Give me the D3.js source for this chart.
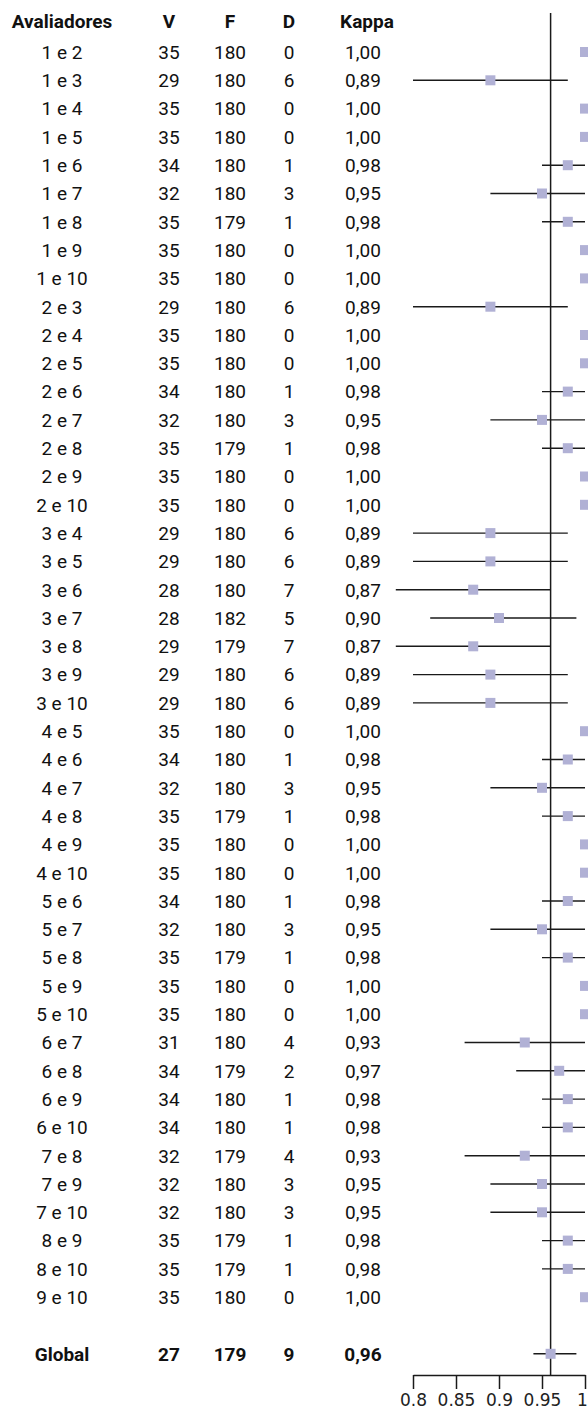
<!DOCTYPE html>
<html>
<head>
<meta charset="utf-8">
<script src="https://cdn.jsdelivr.net/npm/d3@7"></script>
<style>
  html, body { margin: 0; padding: 0; background: #fff; }
  svg { display: block; }
</style>
</head>
<body>
<div id="chart"></div>
<script>
const WIDTH = 588;
const HEIGHT = 1411;
const SQUARE_FILL = "#b1b1d5";
const LINE_COLOR = "#1a1a1a";

// Table data
const pairs = [
  "1 e 2", "1 e 3", "1 e 4", "1 e 5", "1 e 6", "1 e 7", "1 e 8", "1 e 9", "1 e 10",
  "2 e 3", "2 e 4", "2 e 5", "2 e 6", "2 e 7", "2 e 8", "2 e 9", "2 e 10",
  "3 e 4", "3 e 5", "3 e 6", "3 e 7", "3 e 8", "3 e 9", "3 e 10",
  "4 e 5", "4 e 6", "4 e 7", "4 e 8", "4 e 9", "4 e 10",
  "5 e 6", "5 e 7", "5 e 8", "5 e 9", "5 e 10",
  "6 e 7", "6 e 8", "6 e 9", "6 e 10",
  "7 e 8", "7 e 9", "7 e 10",
  "8 e 9", "8 e 10",
  "9 e 10"
];
const vValues = [
  35, 29, 35, 35, 34, 32, 35, 35, 35,
  29, 35, 35, 34, 32, 35, 35, 35,
  29, 29, 28, 28, 29, 29, 29,
  35, 34, 32, 35, 35, 35,
  34, 32, 35, 35, 35,
  31, 34, 34, 34,
  32, 32, 32,
  35, 35,
  35
];
const fValues = [
  180, 180, 180, 180, 180, 180, 179, 180, 180,
  180, 180, 180, 180, 180, 179, 180, 180,
  180, 180, 180, 182, 179, 180, 180,
  180, 180, 180, 179, 180, 180,
  180, 180, 179, 180, 180,
  180, 179, 180, 180,
  179, 180, 180,
  179, 179,
  180
];
const dValues = [
  0, 6, 0, 0, 1, 3, 1, 0, 0,
  6, 0, 0, 1, 3, 1, 0, 0,
  6, 6, 7, 5, 7, 6, 6,
  0, 1, 3, 1, 0, 0,
  1, 3, 1, 0, 0,
  4, 2, 1, 1,
  4, 3, 3,
  1, 1,
  0
];
const kappa = [
  1.00, 0.89, 1.00, 1.00, 0.98, 0.95, 0.98, 1.00, 1.00,
  0.89, 1.00, 1.00, 0.98, 0.95, 0.98, 1.00, 1.00,
  0.89, 0.89, 0.87, 0.90, 0.87, 0.89, 0.89,
  1.00, 0.98, 0.95, 0.98, 1.00, 1.00,
  0.98, 0.95, 0.98, 1.00, 1.00,
  0.93, 0.97, 0.98, 0.98,
  0.93, 0.95, 0.95,
  0.98, 0.98,
  1.00
];
const ciLow = [
  1.00, 0.80, 1.00, 1.00, 0.95, 0.89, 0.95, 1.00, 1.00,
  0.80, 1.00, 1.00, 0.95, 0.89, 0.95, 1.00, 1.00,
  0.80, 0.80, 0.78, 0.82, 0.78, 0.80, 0.80,
  1.00, 0.95, 0.89, 0.95, 1.00, 1.00,
  0.95, 0.89, 0.95, 1.00, 1.00,
  0.86, 0.92, 0.95, 0.95,
  0.86, 0.89, 0.89,
  0.95, 0.95,
  1.00
];
const ciHigh = [
  1.00, 0.98, 1.00, 1.00, 1.00, 1.00, 1.00, 1.00, 1.00,
  0.98, 1.00, 1.00, 1.00, 1.00, 1.00, 1.00, 1.00,
  0.98, 0.98, 0.96, 0.99, 0.96, 0.98, 0.98,
  1.00, 1.00, 1.00, 1.00, 1.00, 1.00,
  1.00, 1.00, 1.00, 1.00, 1.00,
  1.00, 1.00, 1.00, 1.00,
  1.00, 1.00, 1.00,
  1.00, 1.00,
  1.00
];
const globalRow = { label: "Global", v: 27, f: 179, d: 9, kappa: 0.96, lo: 0.94, hi: 0.99 };
const headers = ["Avaliadores", "V", "F", "D", "Kappa"];
const tickValues = [0.8, 0.85, 0.9, 0.95, 1];
const refLine = 0.96;

const rows = pairs.map((p, i) => ({
  label: p, v: vValues[i], f: fValues[i], d: dValues[i],
  kappa: kappa[i], lo: ciLow[i], hi: ciHigh[i], idx: i, bold: false
}));
rows.push({ ...globalRow, idx: pairs.length + 1, bold: true });

const fmtKappa = v => v.toFixed(2).replace(".", ",");

const svg = d3.select("#chart")
  .append("svg")
  .attr("width", WIDTH)
  .attr("height", HEIGHT);

const x = d3.scaleLinear().domain([0.8, 1]).range([413, 585]);
const y = d3.scaleLinear().domain([0, 46]).range([52, 52 + 46 * 28.3]);
const axisY = 1375;

// column centres
const colX = [62, 169, 230, 289, 363];
const headerX = [62, 169, 230, 289, 367];

const FONT = "Roboto, 'DejaVu Sans', sans-serif";

// header
svg.append("g")
  .selectAll("text")
  .data(headers)
  .join("text")
  .attr("x", (d, i) => headerX[i])
  .attr("y", y(-1) - 3)
  .attr("dy", "0.36em")
  .attr("text-anchor", "middle")
  .attr("font-family", FONT)
  .attr("font-size", 19)
  .attr("font-weight", "bold")
  .attr("fill", "#111")
  .text(d => d);

// table rows
const rowG = svg.append("g")
  .selectAll("g")
  .data(rows)
  .join("g")
  .attr("transform", d => `translate(0,${y(d.idx)})`)
  .attr("font-family", FONT)
  .attr("font-size", 19)
  .attr("font-weight", d => d.bold ? "bold" : "normal")
  .attr("fill", "#111");

rowG.selectAll("text")
  .data(d => [d.label, d.v, d.f, d.d, fmtKappa(d.kappa)])
  .join("text")
  .attr("x", (d, i) => colX[i])
  .attr("dy", "0.36em")
  .attr("text-anchor", "middle")
  .text(d => d);

// reference line
svg.append("line")
  .attr("x1", x(refLine)).attr("x2", x(refLine))
  .attr("y1", 13).attr("y2", axisY)
  .attr("stroke", LINE_COLOR)
  .attr("stroke-width", 1.5);

// confidence intervals
svg.append("g")
  .selectAll("line")
  .data(rows.filter(d => d.hi > d.lo))
  .join("line")
  .attr("x1", d => x(d.lo))
  .attr("x2", d => x(d.hi))
  .attr("y1", d => y(d.idx))
  .attr("y2", d => y(d.idx))
  .attr("stroke", LINE_COLOR)
  .attr("stroke-width", 1.4);

// point estimates
svg.append("g")
  .selectAll("rect")
  .data(rows)
  .join("rect")
  .attr("x", d => x(d.kappa) - 5)
  .attr("y", d => y(d.idx) - 5)
  .attr("width", 10)
  .attr("height", 10)
  .attr("fill", SQUARE_FILL);

// axis
const axis = d3.axisBottom(x)
  .tickValues(tickValues)
  .tickSize(14)
  .tickSizeOuter(0)
  .tickPadding(5)
  .tickFormat(d => String(d));

const axG = svg.append("g")
  .attr("transform", `translate(0,${axisY})`)
  .call(axis);

axG.select(".domain").attr("stroke", LINE_COLOR).attr("stroke-width", 1.5);
axG.selectAll(".tick line").attr("stroke", LINE_COLOR).attr("stroke-width", 1.5);
axG.selectAll(".tick text")
  .attr("font-family", "'DejaVu Sans', Verdana, sans-serif")
  .attr("font-size", 17)
  .attr("fill", "#222")
  .attr("dx", d => d === 1 ? -3 : 0);
</script>
</body>
</html>
